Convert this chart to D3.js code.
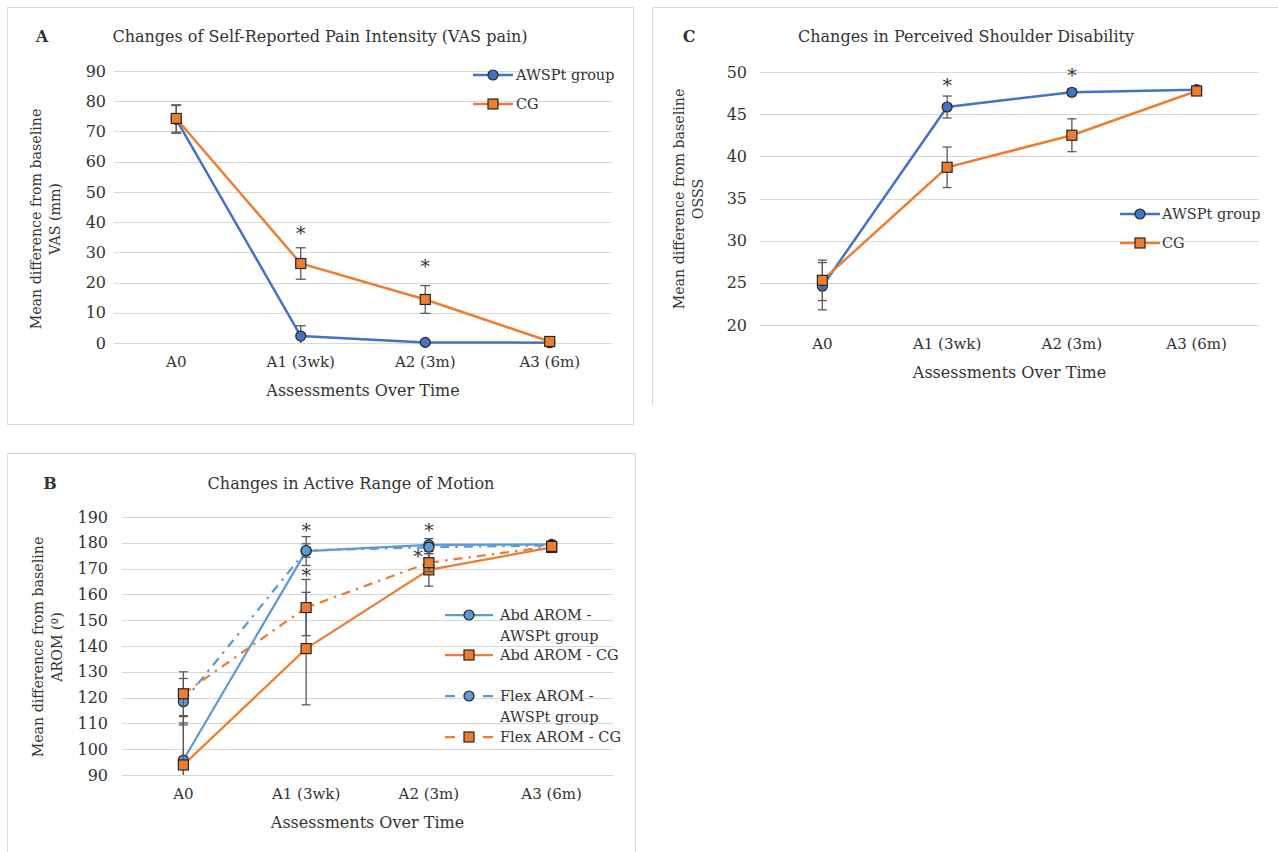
<!DOCTYPE html>
<html>
<head>
<meta charset="utf-8">
<script src="https://cdn.jsdelivr.net/npm/d3@7"></script>
<style>
  body { margin: 0; background: #fff; }
  svg text { font-family: "DejaVu Serif", serif; fill: #333; }
</style>
</head>
<body>
<svg id="chart" width="1278" height="852"></svg>
<script>
// ---------------- DATA ----------------
var kategorie = ["A0", "A1 (3wk)", "A2 (3m)", "A3 (6m)"];

// Panel A - VAS pain
var vasAwspt    = [74.0, 2.3, 0.2, 0.1];
var vasAwsptErr = [4.6, 3.4, 0.3, 0.2];
var vasCg       = [74.3, 26.3, 14.4, 0.5];
var vasCgErr    = [4.5, 5.2, 4.6, 0.4];
var vasTicks    = [0, 10, 20, 30, 40, 50, 60, 70, 80, 90];
var vasStars    = [{ cat: "A1 (3wk)", value: 38.0 }, { cat: "A2 (3m)", value: 26.8 }];

// Panel C - OSSS
var osssAwspt    = [24.6, 45.85, 47.6, 47.9];
var osssAwsptErr = [2.8, 1.3, 0.4, 0.2];
var osssCg       = [25.3, 38.7, 42.5, 47.75];
var osssCgErr    = [2.4, 2.4, 1.95, 0.2];
var osssTicks    = [20, 25, 30, 35, 40, 45, 50];
var osssStars    = [{ cat: "A1 (3wk)", value: 49.0 }, { cat: "A2 (3m)", value: 50.2 }];

// Panel B - AROM
var abdAwspt     = [95.8, 176.8, 179.2, 179.4];
var abdAwsptErr  = [14.4, 5.6, 2.4, 1.2];
var abdCg        = [93.9, 139.0, 169.5, 178.2];
var abdCgErr     = [18.7, 21.8, 6.3, 1.5];
var flexAwspt    = [118.4, 177.0, 178.3, 179.0];
var flexAwsptErr = [9.0, 2.6, 1.6, 1.0];
var flexCg       = [121.5, 154.9, 172.3, 178.6];
var flexCgErr    = [8.5, 10.9, 3.5, 1.4];
var aromTicks    = [90, 100, 110, 120, 130, 140, 150, 160, 170, 180, 190];
var aromStars    = [
  { cat: "A1 (3wk)", value: 186.5 }, { cat: "A1 (3wk)", value: 169.4 },
  { cat: "A2 (3m)", value: 186.5 }, { cat: "A2 (3m)", value: 176.4, shift: true }
];

// ---------------- COLOURS ----------------
var modra = "#4472C4", svetleModra = "#5B9BD5", oranzova = "#ED7D31";
var sedaMrizka = "#D9D9D9", chybaBarva = "#595959", obrys = "#262626";

var svg = d3.select("#chart");

// ramecky kolem grafu
svg.append("rect").attr("x", 7.5).attr("y", 7.5).attr("width", 626).attr("height", 417)
  .attr("fill", "none").attr("stroke", sedaMrizka);
svg.append("path").attr("d", "M652.5,405 V7.5 H1278")
  .attr("fill", "none").attr("stroke", sedaMrizka);
svg.append("path").attr("d", "M7.5,853 V453.5 H635.5 V853")
  .attr("fill", "none").attr("stroke", sedaMrizka);

function drawPanel(p) {
  var g = svg.append("g");

  var x = d3.scaleBand().domain(kategorie).range([p.x0, p.x1]);
  var cx = function (c) { return x(c) + x.bandwidth() / 2; };
  var y = d3.scaleLinear().domain(p.domain).range([p.yBottom, p.yTop]);

  // mrizka
  g.selectAll(".grid").data(p.ticks).enter().append("line")
    .attr("x1", p.x0).attr("x2", p.x1)
    .attr("y1", function (d) { return Math.round(y(d)) + 0.5; })
    .attr("y2", function (d) { return Math.round(y(d)) + 0.5; })
    .attr("stroke", sedaMrizka).attr("stroke-width", 1);

  // osa y
  var osaY = g.append("g").attr("transform", "translate(" + p.x0 + ",0)")
    .call(d3.axisLeft(y).tickValues(p.ticks).tickSize(0).tickPadding(p.tickPad));
  osaY.select(".domain").remove();
  osaY.selectAll("text").style("font-family", "DejaVu Serif").style("font-size", "16px").attr("fill", "#333");

  // osa x
  var osaX = g.append("g").attr("transform", "translate(0," + p.yBottom + ")")
    .call(d3.axisBottom(x).tickSize(0).tickPadding(p.xPad));
  osaX.select(".domain").remove();
  osaX.selectAll("text").style("font-family", "DejaVu Serif").style("font-size", "15px").attr("fill", "#333");

  // nadpisy
  g.append("text").attr("x", p.letterX).attr("y", p.titleY).attr("text-anchor", "middle")
    .attr("dominant-baseline", "central").style("font-weight", "bold").style("font-size", "16px")
    .attr("fill", "#000").text(p.letter);
  g.append("text").attr("x", p.titleX).attr("y", p.titleY).attr("text-anchor", "middle")
    .attr("dominant-baseline", "central").style("font-size", "16px").text(p.title);
  g.append("text").attr("x", (p.x0 + p.x1) / 2).attr("y", p.xTitleY).attr("text-anchor", "middle")
    .attr("dominant-baseline", "central").style("font-size", "16px").text("Assessments Over Time");
  p.yTitle.forEach(function (t, i) {
    g.append("text")
      .attr("transform", "translate(" + p.yTitleX[i] + "," + p.yTitleCY + ") rotate(-90)")
      .attr("text-anchor", "middle").attr("dominant-baseline", "central")
      .style("font-size", "14.2px").text(t);
  });

  // serie
  p.series.forEach(function (s) {
    var body = kategorie.map(function (c, i) { return { c: c, v: s.values[i], e: s.errs[i] }; });
    var line = d3.line().x(function (d) { return cx(d.c); }).y(function (d) { return y(d.v); });

    g.append("path").datum(body).attr("d", line).attr("fill", "none")
      .attr("stroke", s.color).attr("stroke-width", p.lineW)
      .attr("stroke-dasharray", s.dash ? "9,6,2.5,6" : null);

    // chybove useky
    body.forEach(function (d) {
      var lo = Math.max(d.v - d.e, p.domain[0]);
      var hi = d.v + d.e;
      var xc = cx(d.c);
      g.append("line").attr("x1", xc).attr("x2", xc).attr("y1", y(lo)).attr("y2", y(hi))
        .attr("stroke", chybaBarva).attr("stroke-width", 1.3);
      g.append("line").attr("x1", xc - p.cap).attr("x2", xc + p.cap).attr("y1", y(hi)).attr("y2", y(hi))
        .attr("stroke", chybaBarva).attr("stroke-width", 1.3);
      if (d.v - d.e >= p.domain[0]) {
        g.append("line").attr("x1", xc - p.cap).attr("x2", xc + p.cap).attr("y1", y(lo)).attr("y2", y(lo))
          .attr("stroke", chybaBarva).attr("stroke-width", 1.3);
      }
    });

    body.forEach(function (d) { drawMarker(g, s, cx(d.c), y(d.v)); });
  });

  // hvezdicky
  p.stars.forEach(function (st) {
    g.append("text").attr("x", cx(st.cat) + (st.shift ? -11 : 0)).attr("y", y(st.value))
      .attr("dy", "0.6em").attr("text-anchor", "middle")
      .style("font-size", "19px").attr("fill", "#111").text("*");
  });

  // legenda
  p.series.forEach(function (s, i) {
    var ly = p.legend.ys[i];
    g.append("line").attr("x1", p.legend.x0).attr("x2", p.legend.x1).attr("y1", ly).attr("y2", ly)
      .attr("stroke", s.color).attr("stroke-width", p.lineW)
      .attr("stroke-dasharray", s.dash ? "10,28,10" : null);
    drawMarker(g, s, (p.legend.x0 + p.legend.x1) / 2, ly);
    s.name.forEach(function (t, j) {
      g.append("text").attr("x", p.legend.textX).attr("y", ly + j * 21)
        .attr("dominant-baseline", "central").style("font-size", "14.5px").text(t);
    });
  });
}

function drawMarker(g, s, mx, my) {
  if (s.shape === "circle") {
    g.append("circle").attr("cx", mx).attr("cy", my).attr("r", 5)
      .attr("fill", s.color).attr("stroke", obrys).attr("stroke-width", 1.2);
  } else {
    g.append("rect").attr("x", mx - 5).attr("y", my - 5).attr("width", 10).attr("height", 10)
      .attr("fill", s.color).attr("stroke", obrys).attr("stroke-width", 1.2);
  }
}

// ---------------- PANEL A ----------------
drawPanel({
  letter: "A", letterX: 42, titleX: 320, titleY: 36,
  title: "Changes of Self-Reported Pain Intensity (VAS pain)",
  x0: 114, x1: 612, yTop: 71, yBottom: 343, domain: [0, 90], ticks: vasTicks,
  tickPad: 8, xPad: 13, xTitleY: 390, lineW: 2.5, cap: 5,
  yTitle: ["Mean difference from baseline", "VAS (mm)"], yTitleX: [36, 55], yTitleCY: 219,
  series: [
    { name: ["AWSPt group"], values: vasAwspt, errs: vasAwsptErr, color: modra, shape: "circle" },
    { name: ["CG"], values: vasCg, errs: vasCgErr, color: oranzova, shape: "square" }
  ],
  stars: vasStars,
  legend: { x0: 473, x1: 513, textX: 516, ys: [75, 104] }
});

// ---------------- PANEL C ----------------
drawPanel({
  letter: "C", letterX: 689, titleX: 966, titleY: 36,
  title: "Changes in Perceived Shoulder Disability",
  x0: 760, x1: 1259, yTop: 72, yBottom: 325, domain: [20, 50], ticks: osssTicks,
  tickPad: 13, xPad: 13, xTitleY: 372, lineW: 2.5, cap: 4.5,
  yTitle: ["Mean difference from baseline", "OSSS"], yTitleX: [679, 698], yTitleCY: 199,
  series: [
    { name: ["AWSPt group"], values: osssAwspt, errs: osssAwsptErr, color: modra, shape: "circle" },
    { name: ["CG"], values: osssCg, errs: osssCgErr, color: oranzova, shape: "square" }
  ],
  stars: osssStars,
  legend: { x0: 1120, x1: 1160, textX: 1162, ys: [214, 243] }
});

// ---------------- PANEL B ----------------
drawPanel({
  letter: "B", letterX: 50, titleX: 351, titleY: 483,
  title: "Changes in Active Range of Motion",
  x0: 122, x1: 613, yTop: 517, yBottom: 775, domain: [90, 190], ticks: aromTicks,
  tickPad: 14, xPad: 13, xTitleY: 822, lineW: 2.25, cap: 4.5,
  yTitle: ["Mean difference from baseline", "AROM (º)"], yTitleX: [38, 57], yTitleCY: 647,
  series: [
    { name: ["Abd AROM -", "AWSPt group"], values: abdAwspt, errs: abdAwsptErr, color: svetleModra, shape: "circle" },
    { name: ["Abd AROM - CG"], values: abdCg, errs: abdCgErr, color: oranzova, shape: "square" },
    { name: ["Flex AROM -", "AWSPt group"], values: flexAwspt, errs: flexAwsptErr, color: svetleModra, shape: "circle", dash: true },
    { name: ["Flex AROM - CG"], values: flexCg, errs: flexCgErr, color: oranzova, shape: "square", dash: true }
  ],
  stars: aromStars,
  legend: { x0: 445, x1: 493, textX: 500, ys: [615, 655, 696, 737] }
});
</script>
</body>
</html>
